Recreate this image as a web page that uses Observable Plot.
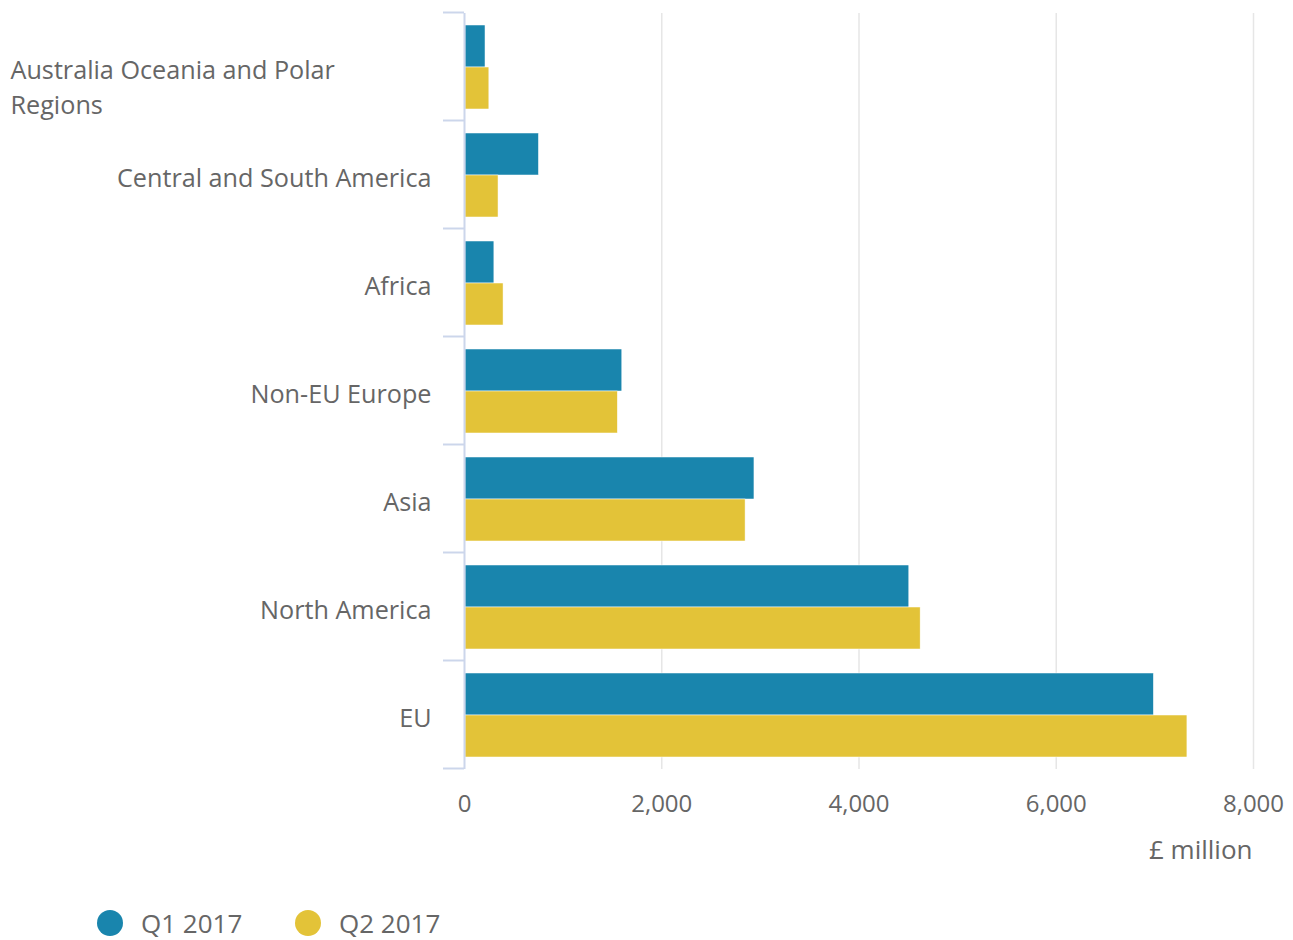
<!DOCTYPE html>
<html>
<head>
<meta charset="utf-8">
<script src="https://cdn.jsdelivr.net/npm/d3@7"></script>
<script src="https://cdn.jsdelivr.net/npm/@observablehq/plot@0.6"></script>
<style>
  html, body { margin: 0; padding: 0; background: #fff; }
  body { width: 1293px; height: 940px; overflow: hidden; font-family: "Open Sans", sans-serif; }
  #chart svg { display: block; }
  #legend { position: relative; height: 60px; font-family: "Open Sans", sans-serif; font-size: 26px; line-height: 26px; color: #666; }
  .item { position: absolute; top: 0; display: flex; align-items: center; height: 26px; }
  .dot { width: 26px; height: 26px; border-radius: 50%; margin-right: 18px; }
</style>
</head>
<body>
<div id="chart"></div>
<div id="legend"></div>
<script>
const categories = ["Australia Oceania and Polar Regions", "Central and South America", "Africa", "Non-EU Europe", "Asia", "North America", "EU"];
const seriesNames = ["Q1 2017", "Q2 2017"];
const q1 = [213, 755, 303, 1600, 2940, 4510, 6990];
const q2 = [252, 345, 396, 1555, 2850, 4625, 7330];
const xTicks = [0, 2000, 4000, 6000, 8000];
const xLabel = "£ million";
const colors = ["#1985ad", "#e3c338"];

const rows = categories.map((c, i) => ({category: c, q1: q1[i], q2: q2[i]}));
const wrapped = "Australia Oceania and Polar\nRegions";
const longCat = categories[0];
const otherCats = categories.slice(1);

const W = 1293, H = 880;
const chart = Plot.plot({
  width: W,
  height: H,
  marginLeft: 464,
  marginRight: 40,
  marginTop: 13,
  marginBottom: H - 769,
  style: {fontFamily: "Open Sans, sans-serif", background: "#fff"},
  x: {domain: [0, 8000], axis: null},
  y: {domain: categories, paddingInner: 0.2222, paddingOuter: 0.1111, axis: null},
  marks: [
    Plot.gridX(xTicks.slice(1), {stroke: "#e6e6e6", strokeOpacity: 1, strokeWidth: 1.5}),
    Plot.barX(rows, {y: "category", x: "q1", fill: colors[0], insetBottom: 42, insetLeft: 1, stroke: "#fff", strokeWidth: 0.5}),
    Plot.barX(rows, {y: "category", x: "q2", fill: colors[1], insetTop: 42, insetLeft: 1, stroke: "#fff", strokeWidth: 0.5}),
    Plot.ruleX([0], {stroke: "#ccd6eb", strokeWidth: 2}),
    Plot.ruleY(categories, {y: d => d, x1: 0, x2: 0, insetLeft: -21, dy: -55, stroke: "#ccd6eb", strokeWidth: 2}),
    Plot.ruleY([categories[categories.length - 1]], {y: d => d, x1: 0, x2: 0, insetLeft: -21, dy: 53, stroke: "#ccd6eb", strokeWidth: 2}),
    Plot.axisY(otherCats, {tickSize: 0, tickPadding: 33, fontSize: 25.2, fill: "#666", dy: 3, textAnchor: "end", label: null}),
    Plot.axisY([longCat], {tickSize: 0, tickPadding: 0, fontSize: 25.2, fill: "#666", textAnchor: "start", dx: 10 - 464, dy: 18, lineHeight: 1.36, tickFormat: () => wrapped, label: null}),
    Plot.axisX(xTicks, {tickSize: 0, tickPadding: 25, fontSize: 24, fill: "#666", tickFormat: d3.format(","), label: null}),
    Plot.text([xLabel], {frameAnchor: "bottom-right", textAnchor: "end", dy: 89, dx: -1, fontSize: 26, fill: "#666"})
  ]
});
document.getElementById("chart").appendChild(chart);

const legend = document.getElementById("legend");
const lefts = [97, 295];
seriesNames.forEach((s, i) => {
  const item = document.createElement("div");
  item.className = "item";
  item.style.left = lefts[i] + "px";
  item.style.top = "30px";
  const dot = document.createElement("div");
  dot.className = "dot";
  dot.style.background = colors[i];
  const label = document.createElement("span");
  label.textContent = s;
  item.appendChild(dot);
  item.appendChild(label);
  legend.appendChild(item);
});
</script>
</body>
</html>
